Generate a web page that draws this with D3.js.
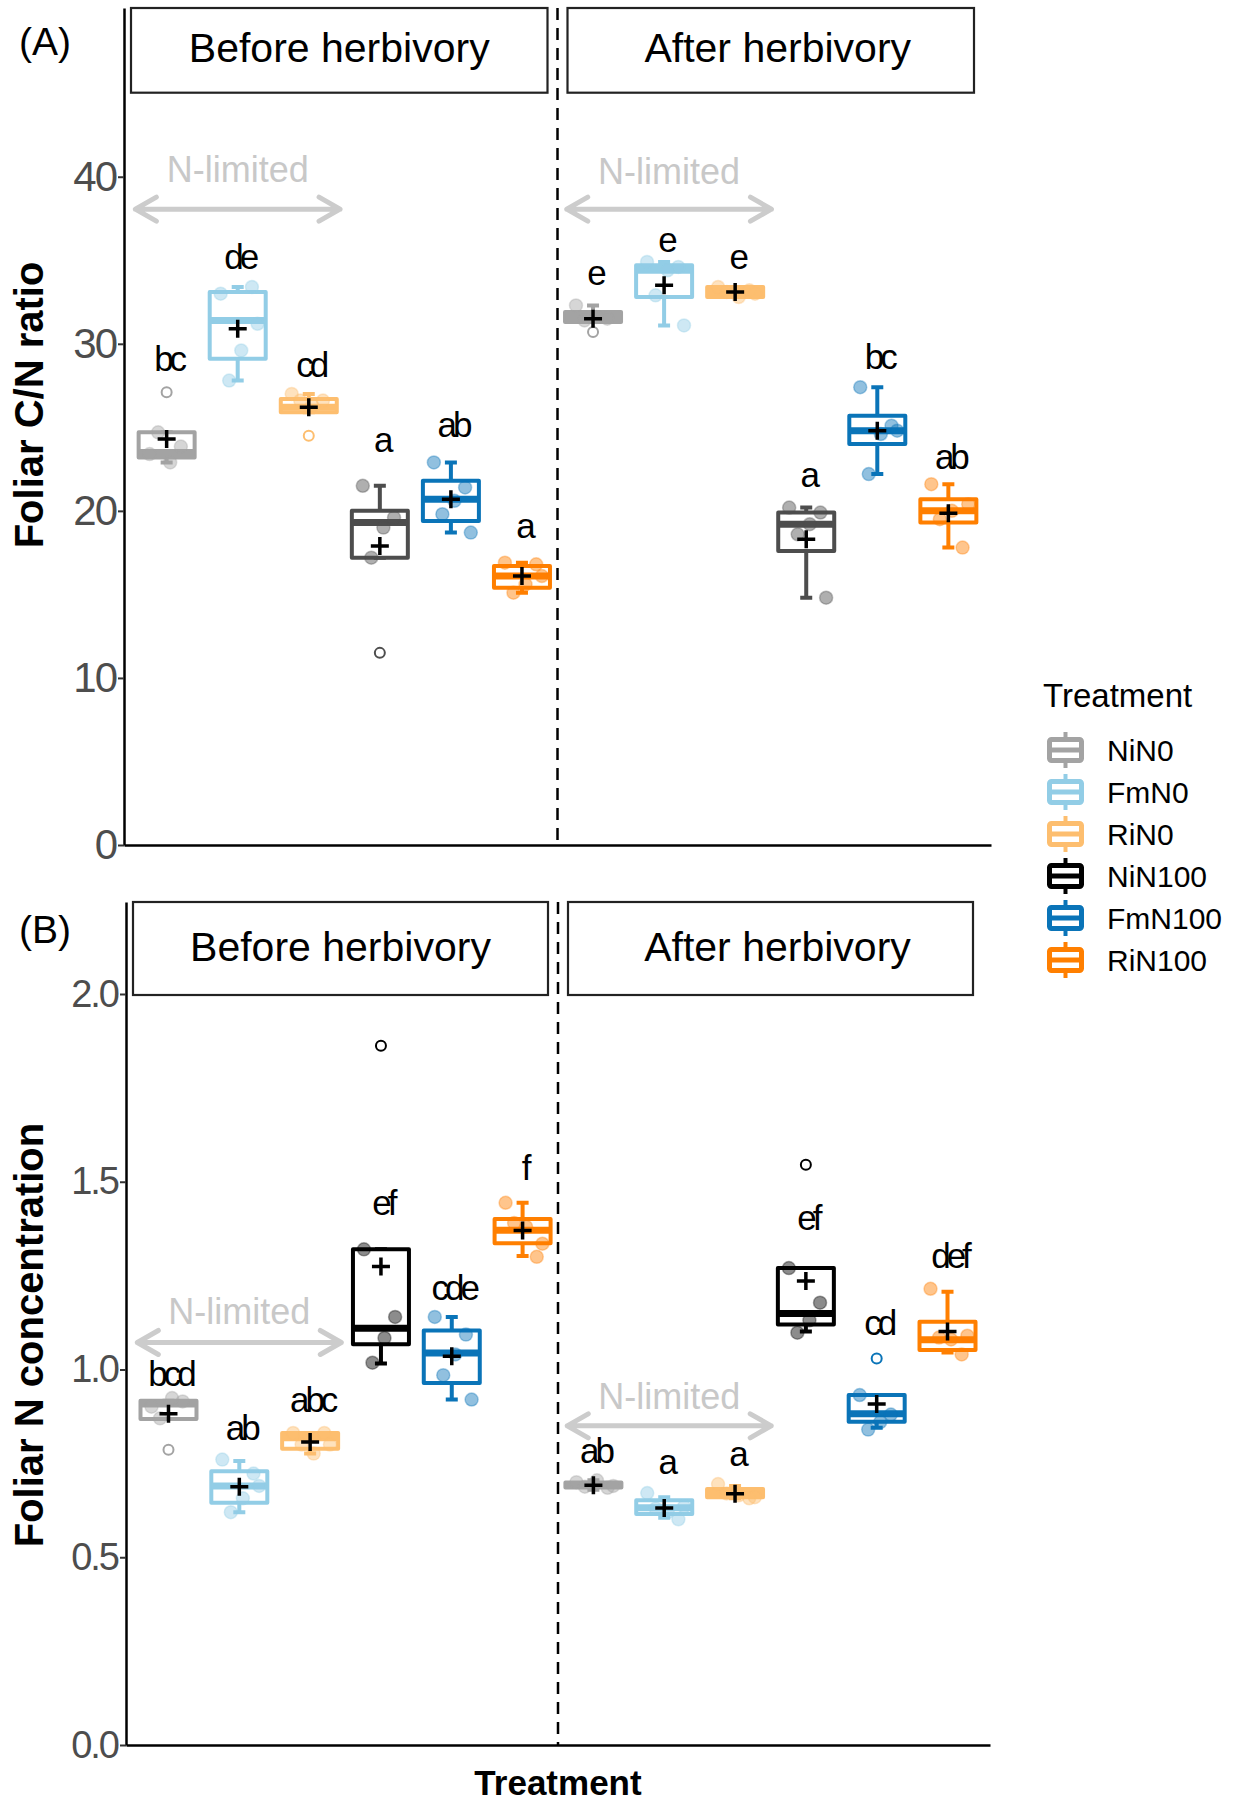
<!DOCTYPE html>
<html>
<head>
<meta charset="utf-8">
<script src="https://cdn.jsdelivr.net/npm/d3@7"></script>
<style>
body { margin: 0; background: #fff; }
svg text { font-family: "Liberation Sans", Arial, sans-serif; }
</style>
</head>
<body>
<div id="chart"></div>
<script>
var W = 1243, H = 1802;

var treatments = ["NiN0", "FmN0", "RiN0", "NiN100", "FmN100", "RiN100"];
var phases = ["Before herbivory", "After herbivory"];
var colours = ["#a3a3a3", "#92cde6", "#fdbe6f", "#000000", "#0a74b8", "#ff7f00"];

// (A) foliar C/N ratio -- box = [lower whisker, Q1, median, Q3, upper whisker]
var cnBoxBefore = [
  [22.9, 23.2, 23.5, 24.7, 24.7],
  [27.8, 29.1, 31.4, 33.1, 33.4],
  [25.9, 25.9, 26.2, 26.7, 27.0],
  [17.2, 17.2, 19.3, 20.0, 21.5],
  [18.7, 19.4, 20.7, 21.8, 22.9],
  [15.1, 15.4, 16.1, 16.7, 16.9]
];
var cnMeanBefore = [24.3, 30.9, 26.2, 17.9, 20.7, 16.1];
var cnPointsBefore = [[23.4, 23.85, 22.9, 24.7], [33.0, 33.4, 29.6, 27.8, 31.2], [27.0, 26.6, 26.3, 26.6],
  [21.5, 19.6, 19.0, 17.2], [22.9, 21.4, 20.6, 19.8, 18.7], [16.9, 16.8, 15.6, 15.1, 16.1]];
var cnOutBefore = [[27.1], [], [24.5], [11.5], [], []];
var cnLetterBefore = ["bc", "de", "cd", "a", "ab", "a"];
var cnLetterYBefore = [28.4, 34.5, 28.0, 23.5, 24.4, 18.4];

var cnBoxAfter = [
  [31.3, 31.3, 31.6, 31.9, 32.3],
  [31.1, 32.8, 34.4, 34.7, 34.9],
  [32.8, 32.8, 33.1, 33.4, 33.4],
  [14.8, 17.6, 19.2, 19.9, 20.2],
  [22.2, 24.0, 24.8, 25.7, 27.4],
  [17.8, 19.3, 20.0, 20.7, 21.6]
];
var cnMeanAfter = [31.5, 33.5, 33.1, 18.3, 24.8, 19.85];
var cnPointsAfter = [[32.3, 31.5, 31.6, 31.4], [34.9, 34.6, 34.4, 32.9, 31.1], [33.4, 33.2, 32.8, 33.1, 33.0],
  [20.2, 19.9, 19.2, 18.6, 14.8], [27.4, 25.1, 24.6, 22.2, 24.8], [21.6, 17.8, 20.0, 19.5, 20.4]];
var cnOutAfter = [[30.7], [], [], [], [], []];
var cnLetterAfter = ["e", "e", "e", "a", "bc", "ab"];
var cnLetterYAfter = [33.5, 35.5, 34.5, 21.4, 28.5, 22.5];

var cnTicks = [0, 10, 20, 30, 40];
var cnNlimTextY = [39.66, 39.58];
var cnNlimArrowY = [38.06, 38.06];

// (B) foliar N concentration
var nBoxBefore = [
  [0.868, 0.868, 0.908, 0.917, 0.917],
  [0.620, 0.645, 0.690, 0.729, 0.756],
  [0.776, 0.789, 0.818, 0.831, 0.831],
  [1.016, 1.067, 1.110, 1.320, 1.320],
  [0.920, 0.964, 1.044, 1.104, 1.140],
  [1.302, 1.336, 1.371, 1.401, 1.444]
];
var nMeanBefore = [0.882, 0.688, 0.807, 1.274, 1.035, 1.370];
var nPointsBefore = [[0.901, 0.915, 0.924, 0.870], [0.760, 0.723, 0.657, 0.620, 0.690], [0.831, 0.831, 0.776, 0.800, 0.800],
  [1.320, 1.140, 1.084, 1.018], [1.140, 1.093, 1.040, 0.985, 0.920], [1.444, 1.300, 1.380, 1.390, 1.335]];
var nOutBefore = [[0.786], [], [], [1.862], [], []];
var nLetterBefore = ["bcd", "ab", "abc", "ef", "cde", "f"];
var nLetterYBefore = [0.957, 0.812, 0.887, 1.411, 1.185, 1.505];

var nBoxAfter = [
  [0.680, 0.686, 0.692, 0.699, 0.705],
  [0.605, 0.615, 0.632, 0.652, 0.660],
  [0.657, 0.660, 0.668, 0.682, 0.690],
  [1.101, 1.120, 1.149, 1.270, 1.270],
  [0.845, 0.861, 0.882, 0.932, 0.932],
  [1.045, 1.052, 1.079, 1.127, 1.207]
];
var nMeanAfter = [0.692, 0.631, 0.669, 1.236, 0.908, 1.101];
var nPointsAfter = [[0.700, 0.685, 0.705, 0.688, 0.690], [0.671, 0.601, 0.620, 0.630, 0.635], [0.695, 0.657, 0.665, 0.670, 0.660],
  [1.270, 1.178, 1.131, 1.098], [0.932, 0.880, 0.860, 0.840], [1.215, 1.040, 1.080, 1.085, 1.090]];
var nOutAfter = [[], [], [], [1.545], [1.029], []];
var nLetterAfter = ["ab", "a", "a", "ef", "cd", "def"];
var nLetterYAfter = [0.751, 0.723, 0.744, 1.371, 1.093, 1.270];

var nTicks = [0, 0.5, 1, 1.5, 2];
var nNlimTextY = [1.121, 0.896];
var nNlimArrowY = [1.072, 0.850];

// horizontal spread of the jittered points (fraction of category step)
var jitter = [-0.24, 0.2, 0.05, -0.12, 0.28];

var svg = d3.select("#chart").append("svg")
  .attr("width", W)
  .attr("height", H);

var keys = [];
phases.forEach(function(p) {
  treatments.forEach(function(t) { keys.push(p + "|" + t); });
});

function rowsFor(boxes, means, points, outs, letters, letterY) {
  return treatments.map(function(t, i) {
    return { t: t, i: i, box: boxes[i], mean: means[i], points: points[i],
             outs: outs[i], letter: letters[i], letterY: letterY[i] };
  });
}

function drawPanel(cfg) {
  var x = d3.scalePoint().domain(keys).range([cfg.left, cfg.right]).padding(0.6);
  var y = d3.scaleLinear().domain([0, cfg.yMax]).range([cfg.bottom, cfg.top]);
  var step = x.step();
  var bw = 56;
  var mid = (x(keys[5]) + x(keys[6])) / 2;
  var g = svg.append("g");

  // strips
  var strips = [
    { label: phases[0], x0: cfg.left + 7, x1: mid - 10, dx: 0 },
    { label: phases[1], x0: mid + 10, x1: cfg.right - 17, dx: 7 }
  ];
  strips.forEach(function(s) {
    g.append("rect")
      .attr("x", s.x0).attr("y", cfg.top)
      .attr("width", s.x1 - s.x0).attr("height", cfg.stripBottom - cfg.top)
      .attr("fill", "#fff").attr("stroke", "#222").attr("stroke-width", 2.2);
    g.append("text")
      .attr("x", (s.x0 + s.x1) / 2 + s.dx)
      .attr("y", (cfg.top + cfg.stripBottom) / 2 + 12)
      .attr("text-anchor", "middle")
      .style("font-size", "41px")
      .text(s.label);
  });

  // dashed separator
  g.append("line")
    .attr("x1", mid).attr("x2", mid)
    .attr("y1", cfg.top).attr("y2", cfg.bottom)
    .attr("stroke", "#000").attr("stroke-width", 2.5)
    .attr("stroke-dasharray", "12,8");

  // N-limited annotations
  [0, 1].forEach(function(pi) {
    var cx = x(phases[pi] + "|FmN0") + (pi === 1 ? 5 : 0);
    var x0 = cx - 1.44 * step, x1 = cx + 1.44 * step;
    var ay = y(cfg.nlimArrowY[pi]);
    g.append("text")
      .attr("x", cx).attr("y", y(cfg.nlimTextY[pi]))
      .attr("text-anchor", "middle")
      .attr("fill", "#c8c8c8")
      .style("font-size", "36px")
      .text("N-limited");
    g.append("path")
      .attr("d", "M" + x0 + "," + ay + "H" + x1 +
        "M" + (x0 + 21) + "," + (ay - 12) + "L" + x0 + "," + ay + "L" + (x0 + 21) + "," + (ay + 12) +
        "M" + (x1 - 21) + "," + (ay - 12) + "L" + x1 + "," + ay + "L" + (x1 - 21) + "," + (ay + 12))
      .attr("fill", "none").attr("stroke", "#cccccc").attr("stroke-width", 5)
      .attr("stroke-linecap", "round").attr("stroke-linejoin", "round");
  });

  // boxplots
  cfg.rows.forEach(function(rows, pi) {
    var groups = g.selectAll(".grp" + pi)
      .data(rows)
      .enter()
      .append("g")
      .attr("transform", function(d) { return "translate(" + x(phases[pi] + "|" + d.t) + ",0)"; });

    groups.each(function(d) {
      var c = cfg.colours[d.i];
      var sel = d3.select(this);
      var b = d.box;
      // whiskers
      sel.append("path")
        .attr("d", "M0," + y(b[0]) + "V" + y(b[1]) + "M0," + y(b[3]) + "V" + y(b[4]) +
          "M-6," + y(b[0]) + "H6M-6," + y(b[4]) + "H6")
        .attr("fill", "none").attr("stroke", c).attr("stroke-width", 4);
      sel.append("rect")
        .attr("x", -bw / 2).attr("y", y(b[3]))
        .attr("width", bw).attr("height", y(b[1]) - y(b[3]))
        .attr("fill", "#fff").attr("stroke", c).attr("stroke-width", 4)
        .attr("stroke-linejoin", "round");
      sel.append("line")
        .attr("x1", -bw / 2).attr("x2", bw / 2)
        .attr("y1", y(b[2])).attr("y2", y(b[2]))
        .attr("stroke", c).attr("stroke-width", 7);
      // outliers
      sel.selectAll(".out").data(d.outs).enter().append("circle")
        .attr("cx", 0).attr("cy", function(v) { return y(v); })
        .attr("r", 5).attr("fill", "none").attr("stroke", c).attr("stroke-width", 2);
      // jittered observations
      sel.selectAll(".pt").data(d.points).enter().append("circle")
        .attr("cx", function(v, k) { return jitter[k % jitter.length] * step; })
        .attr("cy", function(v) { return y(v); })
        .attr("r", 6.5)
        .attr("fill", c).attr("fill-opacity", 0.45)
        .attr("stroke", c).attr("stroke-opacity", 0.35).attr("stroke-width", 1.5);
      // mean
      sel.append("path")
        .attr("d", "M-9," + y(d.mean) + "H9M0," + (y(d.mean) - 9) + "V" + (y(d.mean) + 9))
        .attr("stroke", "#000").attr("stroke-width", 3.5);
      // letters
      sel.append("text")
        .attr("x", 2).attr("y", y(d.letterY))
        .attr("text-anchor", "middle")
        .style("font-size", "35px")
        .style("letter-spacing", "-4px")
        .text(d.letter);
    });
  });

  // axes
  var yAxis = d3.axisLeft(y).tickValues(cfg.ticks).tickFormat(cfg.fmt).tickSize(6).tickSizeOuter(0).tickPadding(2);
  var ya = g.append("g").attr("transform", "translate(" + cfg.left + ",0)").call(yAxis);
  ya.select(".domain").attr("stroke", "#000").attr("stroke-width", 2.5);
  ya.selectAll(".tick line").attr("stroke", "#333").attr("stroke-width", 2);
  ya.selectAll(".tick text")
    .attr("fill", "#4d4d4d")
    .style("font-family", "'Liberation Sans Narrow', 'Liberation Sans', sans-serif")
    .style("font-size", cfg.tickSize + "px")
    .style("letter-spacing", "-2px");

  var xa = g.append("g").attr("transform", "translate(0," + cfg.bottom + ")")
    .call(d3.axisBottom(x).tickValues([]).tickSizeOuter(0));
  xa.select(".domain").attr("stroke", "#000").attr("stroke-width", 2.5);

  // y title
  g.append("text")
    .attr("transform", "translate(43," + cfg.titleY + ") rotate(-90)")
    .attr("text-anchor", "middle")
    .style("font-size", "40px").style("font-weight", "bold")
    .text(cfg.title);

  g.append("text")
    .attr("x", 19).attr("y", cfg.tagY)
    .style("font-size", "39px")
    .text(cfg.tag);
}

drawPanel({
  tag: "(A)", tagY: 55,
  left: 124, right: 991, top: 8, bottom: 845, stripBottom: 92.7,
  yMax: 50.1, ticks: cnTicks, fmt: d3.format("d"), tickSize: 42,
  title: "Foliar C/N ratio", titleY: 405,
  colours: colours.map(function(c, i) { return i === 3 ? "#4d4d4d" : c; }),
  nlimTextY: cnNlimTextY, nlimArrowY: cnNlimArrowY,
  rows: [
    rowsFor(cnBoxBefore, cnMeanBefore, cnPointsBefore, cnOutBefore, cnLetterBefore, cnLetterYBefore),
    rowsFor(cnBoxAfter, cnMeanAfter, cnPointsAfter, cnOutAfter, cnLetterAfter, cnLetterYAfter)
  ]
});

drawPanel({
  tag: "(B)", tagY: 943,
  left: 126, right: 990, top: 902, bottom: 1745, stripBottom: 995,
  yMax: 2.245, ticks: nTicks, fmt: d3.format(".1f"), tickSize: 38,
  title: "Foliar N concentration", titleY: 1335,
  colours: colours,
  nlimTextY: nNlimTextY, nlimArrowY: nNlimArrowY,
  rows: [
    rowsFor(nBoxBefore, nMeanBefore, nPointsBefore, nOutBefore, nLetterBefore, nLetterYBefore),
    rowsFor(nBoxAfter, nMeanAfter, nPointsAfter, nOutAfter, nLetterAfter, nLetterYAfter)
  ]
});

// x title
svg.append("text")
  .attr("x", 558).attr("y", 1795)
  .attr("text-anchor", "middle")
  .style("font-size", "35px").style("font-weight", "bold")
  .text("Treatment");

// legend
var legend = svg.append("g");
legend.append("text")
  .attr("x", 1043).attr("y", 707)
  .style("font-size", "33px")
  .text("Treatment");

var items = legend.selectAll(".item")
  .data(treatments)
  .enter()
  .append("g")
  .attr("transform", function(d, i) { return "translate(1065.5," + (750 + 42 * i) + ")"; });

items.append("path")
  .attr("d", "M0,-18V18")
  .attr("stroke", function(d, i) { return colours[i]; })
  .attr("stroke-width", 4);
items.append("rect")
  .attr("x", -16).attr("y", -10.5).attr("width", 32).attr("height", 21).attr("rx", 2)
  .attr("fill", "#fff")
  .attr("stroke", function(d, i) { return colours[i]; })
  .attr("stroke-width", 5);
items.append("line")
  .attr("x1", -16).attr("x2", 16)
  .attr("stroke", function(d, i) { return colours[i]; })
  .attr("stroke-width", 5);
items.append("text")
  .attr("x", 41.5).attr("y", 11)
  .style("font-size", "30px")
  .text(function(d) { return d; });
</script>
</body>
</html>
